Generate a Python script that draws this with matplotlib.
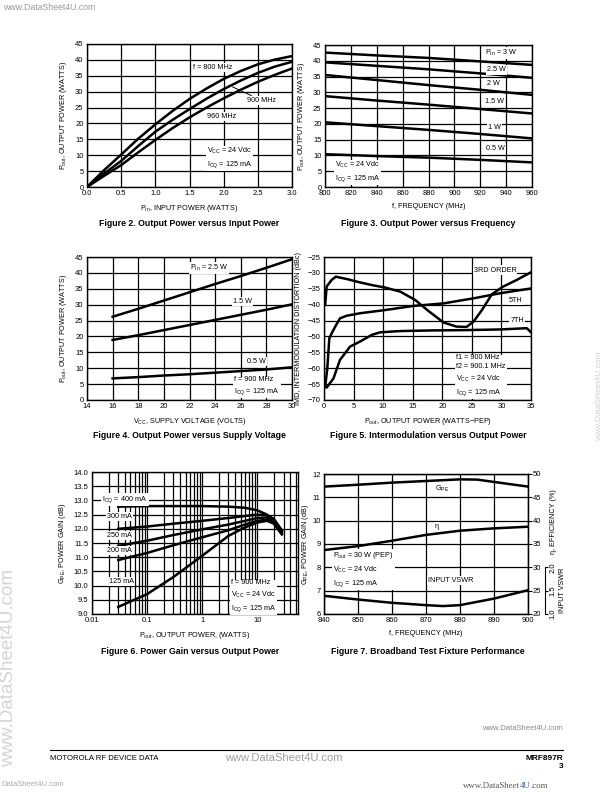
import matplotlib
matplotlib.use("Agg")
import matplotlib.pyplot as plt

plt.rcParams["font.family"] = ["Liberation Sans", "DejaVu Sans"]
plt.rcParams["mathtext.fontset"] = "custom"
plt.rcParams["mathtext.rm"] = "Liberation Sans"
plt.rcParams["mathtext.it"] = "Liberation Sans:italic"
plt.rcParams["mathtext.bf"] = "Liberation Sans:bold"

W, H = 612, 792

# Figure 2: output power vs input power
pin = [0, 0.25, 0.5, 0.75, 1.0, 1.25, 1.5, 1.75, 2.0, 2.25, 2.5, 2.75, 3.0]
pout_800 = [0, 5.3, 10.2, 15.2, 19.7, 23.9, 27.7, 31.0, 34.0, 36.5, 38.6, 40.1, 41.2]
pout_900 = [0, 4.2, 8.2, 12.9, 17.4, 21.1, 24.5, 27.8, 30.8, 33.5, 35.9, 37.9, 39.4]
pout_960 = [0, 3.5, 6.9, 10.9, 14.8, 18.5, 21.9, 25.0, 27.9, 30.6, 33.1, 35.3, 37.3]

# Figure 3: output power vs frequency
freq3 = [800, 840, 880, 920, 960]
pout_f = {
    "3": [42.6, 41.7, 40.9, 39.8, 38.7],
    "2.5": [39.5, 38.4, 37.3, 36.0, 34.6],
    "2": [35.5, 33.9, 32.3, 30.8, 29.2],
    "1.5": [28.8, 27.4, 26.1, 24.7, 23.3],
    "1": [20.5, 19.3, 18.1, 16.8, 15.4],
    "0.5": [10.4, 9.8, 9.3, 8.6, 7.8],
}

# Figure 4: output power vs supply voltage
vcc = [16, 18, 20, 22, 24, 26, 28, 30]
pout_v25 = [26.2, 28.7, 31.3, 33.9, 36.5, 39.0, 41.6, 44.3]
pout_v15 = [18.9, 20.4, 22.0, 23.6, 25.2, 26.8, 28.4, 30.1]
pout_v05 = [6.8, 7.2, 7.7, 8.1, 8.6, 9.1, 9.6, 10.3]

# Figure 5: intermodulation vs output power
imd3_x = [0.2, 0.45, 1.3, 2.0, 4.0, 6.1, 8.0, 10.3, 12.9, 15.4, 17.6, 20.2, 22.4, 24.1,
          25.3, 26.7, 28.4, 30.3, 32.6, 35.0]
imd3_y = [-40.0, -34.3, -32.2, -31.2, -32.0, -33.0, -33.8, -34.6, -35.9, -38.5, -41.9,
          -45.6, -46.9, -47.0, -45.3, -41.7, -36.7, -34.3, -32.2, -29.8]
imd5_x = [0.2, 0.56, 0.9, 1.3, 1.9, 2.7, 3.8, 6.1, 10.3, 15.1, 20.2, 25.3, 29.8, 35.0]
imd5_y = [-65.8, -60.0, -50.6, -49.0, -46.9, -44.3, -43.5, -42.7, -41.7, -40.4, -39.6,
          -38.0, -36.4, -34.9]
imd7_x = [0, 0.45, 1.6, 2.7, 4.4, 6.1, 8.1, 9.5, 12.9, 18.5, 24.1, 29.8, 34.3, 35.0]
imd7_y = [-65.3, -66.1, -63.2, -57.4, -53.2, -51.6, -49.5, -48.7, -48.3, -48.1, -48.0,
          -47.8, -47.4, -48.7]

# Figure 6: power gain vs output power
pout6 = [0.03, 0.1, 0.3, 1, 3, 6, 10, 15, 20, 28]
gain6 = {
    "400": [12.78, 12.80, 12.80, 12.80, 12.78, 12.74, 12.65, 12.50, 12.30, 11.90],
    "300": [12.00, 12.08, 12.18, 12.28, 12.38, 12.45, 12.50, 12.48, 12.35, 11.95],
    "250": [11.40, 11.58, 11.78, 11.98, 12.15, 12.28, 12.38, 12.40, 12.28, 11.90],
    "200": [10.90, 11.15, 11.42, 11.70, 11.95, 12.15, 12.28, 12.32, 12.22, 11.85],
    "125": [9.25, 9.70, 10.30, 11.05, 11.75, 12.05, 12.22, 12.28, 12.18, 11.80],
}

# Figure 7: broadband test fixture
freq7 = [840, 850, 860, 870, 880, 885, 890, 900]
gpe7 = [11.46, 11.54, 11.63, 11.70, 11.77, 11.76, 11.66, 11.46]
freq_eff = [840, 850, 860, 870, 880, 890, 900]
eff7 = [33.7, 34.55, 35.7, 36.95, 37.85, 38.35, 38.7]
freq_vswr = [840, 850, 860, 870, 875, 880, 890, 900]
vswr7 = [1.39, 1.31, 1.24, 1.19, 1.17, 1.19, 1.33, 1.51]

LW = 1.8
BOX = dict(facecolor="white", edgecolor="none", pad=0.8)
FS = 5.2

fig = plt.figure(figsize=(W / 100, H / 100), dpi=100)


def place(x0, y0, x1, y1):
    return fig.add_axes([x0 / W, 1 - y1 / H, (x1 - x0) / W, (y1 - y0) / H])


def style(ax):
    ax.grid(True, which="both", color="black", linewidth=0.9)
    ax.set_axisbelow(True)
    for s in ax.spines.values():
        s.set_linewidth(1.0)
    ax.tick_params(which="both", length=0, labelsize=5.5, pad=2.5)


def title(cx, y, s):
    fig.text(cx / W, 1 - y / H, s, ha="center", va="center", fontsize=6.3, fontweight="bold")


def note(ax, x, y, s, **kw):
    ax.text(x, y, s, fontsize=FS, va="center", bbox=BOX, zorder=5, **kw)


# ---- Figure 2
ax = place(87, 44, 292, 187)
style(ax)
ax.plot(pin, pout_800, color="black", lw=LW)
ax.plot(pin, pout_900, color="black", lw=LW)
ax.plot(pin, pout_960, color="black", lw=LW)
ax.set_xlim(0, 3)
ax.set_ylim(0, 45)
ax.set_xticks([0, 0.5, 1.0, 1.5, 2.0, 2.5, 3.0])
ax.set_xticklabels(["0.0", "0.5", "1.0", "1.5", "2.0", "2.5", "3.0"])
ax.set_yticks(range(0, 46, 5))
ax.set_xlabel(r"$\mathregular{P_{in}}$, INPUT POWER (WATTS)", fontsize=FS, labelpad=4)
ax.set_ylabel(r"$\mathregular{P_{out}}$, OUTPUT POWER (WATTS)", fontsize=FS, labelpad=4)
note(ax, 1.55, 37.5, "f = 800 MHz")
ax.annotate("900 MHz", xy=(2.13, 31.5), xytext=(2.34, 27.3), fontsize=FS, va="center",
            bbox=BOX, zorder=5, arrowprops=dict(arrowstyle="-", lw=0.7, color="black",
                                                shrinkA=0, shrinkB=0))
note(ax, 1.76, 22.3, "960 MHz")
note(ax, 1.76, 9.2, "$\\mathregular{V_{CC}}$ = 24 Vdc\n$\\mathregular{I_{CQ}}$ = 125 mA",
     linespacing=1.5)
title(189, 223, "Figure 2. Output Power versus Input Power")

# ---- Figure 3
ax = place(325, 45, 532, 187)
style(ax)
for key in pout_f:
    ax.plot(freq3, pout_f[key], color="black", lw=LW)
ax.set_xlim(800, 960)
ax.set_ylim(0, 45)
ax.set_xticks(range(800, 961, 20))
ax.set_yticks(range(0, 46, 5))
ax.set_xlabel("f, FREQUENCY (MHz)", fontsize=FS, labelpad=4)
ax.set_ylabel(r"$\mathregular{P_{out}}$, OUTPUT POWER (WATTS)", fontsize=FS, labelpad=4)
note(ax, 924, 42.5, "$\\mathregular{P_{in}}$ = 3 W")
note(ax, 925, 37.1, "2.5 W")
note(ax, 925.5, 32.9, "2 W")
note(ax, 923.6, 27.0, "1.5 W")
note(ax, 926, 18.9, "1 W")
note(ax, 924.6, 12.3, "0.5 W")
note(ax, 807.7, 4.8, "$\\mathregular{V_{CC}}$ = 24 Vdc\n$\\mathregular{I_{CQ}}$ = 125 mA",
     linespacing=1.5)
title(428, 223, "Figure 3. Output Power versus Frequency")

# ---- Figure 4
ax = place(87, 257, 292, 400)
style(ax)
ax.plot(vcc, pout_v25, color="black", lw=LW)
ax.plot(vcc, pout_v15, color="black", lw=LW)
ax.plot(vcc, pout_v05, color="black", lw=LW)
ax.set_xlim(14, 30)
ax.set_ylim(0, 45)
ax.set_xticks(range(14, 31, 2))
ax.set_yticks(range(0, 46, 5))
ax.set_xlabel(r"$\mathregular{V_{CC}}$, SUPPLY VOLTAGE (VOLTS)", fontsize=FS, labelpad=4)
ax.set_ylabel(r"$\mathregular{P_{out}}$, OUTPUT POWER (WATTS)", fontsize=FS, labelpad=4)
note(ax, 22.05, 41.6, "$\\mathregular{P_{in}}$ = 2.5 W")
note(ax, 25.4, 30.9, "1.5 W")
note(ax, 26.5, 12.2, "0.5 W")
note(ax, 25.5, 4.3, "f = 900 MHz\n$\\mathregular{I_{CQ}}$ = 125 mA", linespacing=1.5)
title(189, 436, "Figure 4. Output Power versus Supply Voltage")

# ---- Figure 5
ax = place(324, 257, 531, 400)
style(ax)
ax.plot(imd3_x, imd3_y, color="black", lw=LW)
ax.plot(imd5_x, imd5_y, color="black", lw=LW)
ax.plot(imd7_x, imd7_y, color="black", lw=LW)
ax.set_xlim(0, 35)
ax.set_ylim(-70, -25)
ax.set_xticks(range(0, 36, 5))
ax.set_yticks(range(-70, -24, 5))
ax.set_xlabel("$\\mathregular{P_{out}}$, OUTPUT POWER (WATTS\u2212PEP)", fontsize=FS, labelpad=4)
ax.set_ylabel("IMD, INTERMODULATION DISTORTION (dBc)", fontsize=FS, labelpad=4)
note(ax, 25.3, -29.1, "3RD ORDER")
note(ax, 31.3, -38.8, "5TH")
note(ax, 31.5, -45.1, "7TH")
note(ax, 22.4, -62.4, "f1 = 900 MHz\nf2 = 900.1 MHz\n$\\mathregular{V_{CC}}$ = 24 Vdc\n"
     "$\\mathregular{I_{CQ}}$ = 125 mA", linespacing=1.5)
title(428, 436, "Figure 5. Intermodulation versus Output Power")

# ---- Figure 6
ax = place(92, 472, 298, 614)
ax.set_xscale("log")
style(ax)
for key in gain6:
    ax.plot(pout6, gain6[key], color="black", lw=LW)
ax.set_xlim(0.01, 55)
ax.set_ylim(9, 14)
ax.set_xticks([0.01, 0.1, 1, 10])
ax.set_xticklabels(["0.01", "0.1", "1", "10"])
ax.set_yticks([9 + 0.5 * i for i in range(11)])
ax.set_yticklabels([f"{9 + 0.5 * i:.1f}" for i in range(11)])
ax.set_xlabel(r"$\mathregular{P_{out}}$, OUTPUT POWER, (WATTS)", fontsize=FS, labelpad=4)
ax.set_ylabel(r"$\mathregular{G_{PE}}$, POWER GAIN (dB)", fontsize=FS, labelpad=4)
note(ax, 0.0155, 13.04, "$\\mathregular{I_{CQ}}$ = 400 mA")
note(ax, 0.019, 12.43, "300 mA")
note(ax, 0.019, 11.75, "250 mA")
note(ax, 0.019, 11.23, "200 mA")
note(ax, 0.020, 10.14, "125 mA")
note(ax, 3.3, 9.62, "f = 900 MHz\n$\\mathregular{V_{CC}}$ = 24 Vdc\n$\\mathregular{I_{CQ}}$ = 125 mA",
     linespacing=1.5)
title(190, 651, "Figure 6. Power Gain versus Output Power")

# ---- Figure 7
ax = place(324, 474, 528, 614)
style(ax)
ax.plot(freq7, gpe7, color="black", lw=LW)
ax.set_xlim(840, 900)
ax.set_ylim(6, 12)
ax.set_xticks(range(840, 901, 10))
ax.set_yticks(range(6, 13))
ax.set_xlabel("f, FREQUENCY (MHz)", fontsize=FS, labelpad=4)
ax.set_ylabel(r"$\mathregular{G_{PE}}$, POWER GAIN (dB)", fontsize=FS, labelpad=1)

ax2 = ax.twinx()
ax2.plot(freq_eff, eff7, color="black", lw=LW)
ax2.set_ylim(20, 50)
ax2.set_yticks(range(20, 51, 5))
ax2.tick_params(length=3, width=0.8, labelsize=5.5, pad=0.5, direction="out")
ax2.set_ylabel("\u03b7, EFFICIENCY (%)", fontsize=FS, labelpad=4)
ax2.yaxis.set_label_coords(1.11, 0.66)

ax3 = ax.twinx()
ax3.plot(freq_vswr, vswr7, color="black", lw=LW)
ax3.set_ylim(1.0, 4.0)
ax3.spines["right"].set_position(("outward", 12))
ax3.spines["right"].set_bounds(1.0, 2.0)
ax3.spines["right"].set_linewidth(0.8)
for s in ("top", "left", "bottom"):
    ax3.spines[s].set_visible(False)
ax3.set_yticks([1.0, 1.5, 2.0])
ax3.set_yticklabels(["1.0", "1.5", "2.0"], rotation=90, va="center")
ax3.tick_params(length=2.5, width=0.8, labelsize=5.5, pad=1, direction="out")
ax3.set_ylabel("INPUT VSWR", fontsize=FS, labelpad=2)
ax3.yaxis.set_label_coords(1.15, 0.167)

note(ax, 872.6, 11.34, "$\\mathregular{G_{PE}}$")
note(ax, 872.6, 9.74, "\u03b7")
note(ax, 842.7, 7.92, "$\\mathregular{P_{out}}$ = 30 W (PEP)\n$\\mathregular{V_{CC}}$ = 24 Vdc\n"
     "$\\mathregular{I_{CQ}}$ = 125 mA", linespacing=1.5)
note(ax, 870.7, 7.43, "INPUT VSWR")
title(428, 651, "Figure 7. Broadband Test Fixture Performance")

# ---- page furniture
grey = "#9a9a9a"
fig.text(3 / W, 1 - 8 / H, "www.DataSheet4U.com", fontsize=6.3, color=grey, va="center")
fig.text(600 / W, 1 - 396 / H, "www.DataSHeet4U.com", fontsize=6, color="#cfcfcf",
         rotation=90, ha="center", va="center")
fig.text(9 / W, 1 - 668 / H, "www.DataSheet4U.com", fontsize=13.5, color="#d4d4d4",
         rotation=90, ha="center", va="center")
fig.text(563 / W, 1 - 728 / H, "www.DataSheet4U.com", fontsize=5.5, color="#888888",
         ha="right", va="center")
fig.add_artist(plt.Line2D([50 / W, 563 / W], [1 - 750 / H, 1 - 750 / H], color="black", lw=0.8))
fig.text(50 / W, 1 - 758 / H, "MOTOROLA RF DEVICE DATA", fontsize=5.6, va="center")
fig.text(284 / W, 1 - 758 / H, "www.DataSheet4U.com", fontsize=8, color="#a0a0a0",
         ha="center", va="center")
fig.text(563 / W, 1 - 758 / H, "MRF897R", fontsize=6, fontweight="bold", ha="right", va="center")
fig.text(563 / W, 1 - 767 / H, "3", fontsize=6, fontweight="bold", ha="right", va="center")
fig.text(1 / W, 1 - 785 / H, "DataSheet4U.com", fontsize=5.5, color="#aaaaaa", va="center")

renderer = fig.canvas.get_renderer()
xpos = 463
for part, col in (("www.DataSheet", "#555555"), ("4U", "#3355dd"), (".com", "#555555")):
    t = fig.text(xpos / W, 1 - 786 / H, part, fontsize=6.3, color=col, va="center",
                 family="Liberation Serif")
    xpos = t.get_window_extent(renderer).x1

fig.savefig("out.png", dpi=100)
